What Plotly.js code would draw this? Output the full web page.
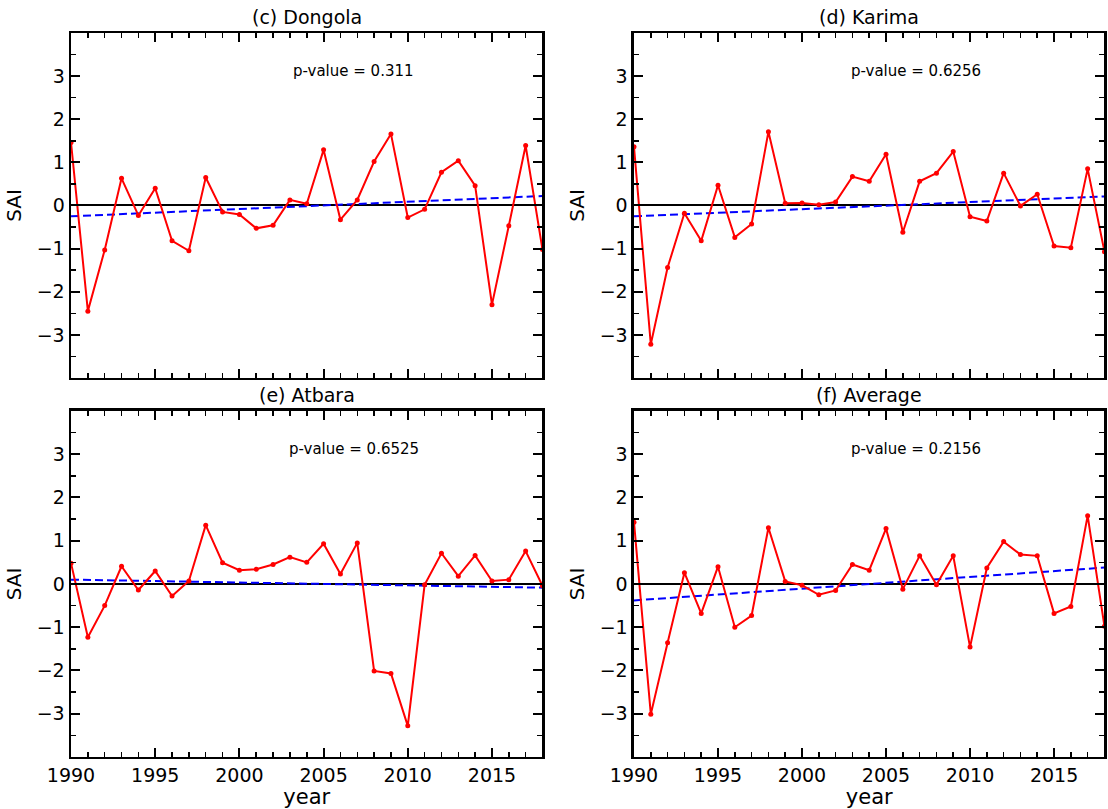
<!DOCTYPE html>
<html>
<head>
<meta charset="utf-8">
<script src="https://cdn.plot.ly/plotly-3.0.1.min.js"></script>
<style>html,body{margin:0;padding:0;background:#fff;}#chart{width:1108px;height:809px;}</style>
</head>
<body>
<div id="chart"></div>
<script>
const years = [1990,1991,1992,1993,1994,1995,1996,1997,1998,1999,2000,2001,2002,2003,2004,2005,2006,2007,2008,2009,2010,2011,2012,2013,2014,2015,2016,2017,2018];

const dongola = [1.46,-2.45,-1.03,0.63,-0.23,0.40,-0.82,-1.05,0.65,-0.15,-0.21,-0.53,-0.46,0.13,0.04,1.29,-0.33,0.13,1.02,1.66,-0.28,-0.09,0.77,1.04,0.46,-2.30,-0.47,1.39,-1.02];
const karima = [1.36,-3.22,-1.44,-0.18,-0.82,0.47,-0.74,-0.43,1.71,0.05,0.06,0.02,0.08,0.67,0.56,1.19,-0.62,0.56,0.75,1.25,-0.26,-0.36,0.75,-0.01,0.26,-0.94,-0.98,0.85,-1.07];
const atbara = [0.48,-1.23,-0.50,0.41,-0.14,0.30,-0.28,0.07,1.36,0.49,0.32,0.34,0.45,0.62,0.50,0.93,0.23,0.95,-2.01,-2.07,-3.28,-0.02,0.71,0.18,0.66,0.07,0.10,0.76,-0.04];
const average = [1.43,-3.01,-1.36,0.26,-0.68,0.40,-1.00,-0.73,1.30,0.06,-0.03,-0.25,-0.15,0.45,0.32,1.28,-0.12,0.65,-0.02,0.65,-1.46,0.37,0.98,0.68,0.65,-0.68,-0.52,1.58,-0.98];

const panelTitles = ["(c) Dongola","(d) Karima","(e) Atbara","(f) Average"];
const pValues = ["p-value = 0.311","p-value = 0.6256","p-value = 0.6525","p-value = 0.2156"];
const trendYears = [1990, 2018];
const trendDongola = [-0.25, 0.22];
const trendKarima = [-0.25, 0.21];
const trendAtbara = [0.10, -0.085];
const trendAverage = [-0.38, 0.38];

const series = [dongola, karima, atbara, average];
const trends = [trendDongola, trendKarima, trendAtbara, trendAverage];

const xDomains = [[0.0641,0.4896],[0.5722,0.9968],[0.0641,0.4896],[0.5722,0.9968]];
const yDomains = [[0.5328,0.9592],[0.5328,0.9592],[0.0643,0.4920],[0.0643,0.4920]];

const FONT = "DejaVu Sans, Liberation Sans, sans-serif";
const traces = [];
const layout = {
  width:1108, height:809,
  margin:{l:0,r:0,t:0,b:0},
  paper_bgcolor:"#fff", plot_bgcolor:"#fff",
  showlegend:false,
  font:{family:FONT, color:"#000", size:16},
  annotations:[]
};

for (let i=0;i<4;i++){
  const n = i+1;
  const xa = n===1 ? "x" : "x"+n;
  const ya = n===1 ? "y" : "y"+n;
  traces.push({x:trendYears, y:trends[i], xaxis:xa, yaxis:ya, mode:"lines",
    line:{color:"#0000ff", width:2, dash:"8px,4px"}, hoverinfo:"skip"});
  traces.push({x:years, y:series[i], xaxis:xa, yaxis:ya, mode:"lines+markers",
    line:{color:"#ff0000", width:2}, marker:{color:"#ff0000", size:5}});
  const bottom = i>=2;
  layout["xaxis"+(n===1?"":n)] = {
    domain:xDomains[i], anchor:ya, range:[1990,2018],
    showline:true, linecolor:"#000", linewidth:2.5, mirror:"allticks",
    ticks:"inside", ticklen:9, tickwidth:2, tickcolor:"#000",
    tickmode:"array", tickvals:[1990,1995,2000,2005,2010,2015],
    minor:{tickvals:years, ticks:"inside", ticklen:5, tickwidth:1.5, tickcolor:"#000"},
    showticklabels:bottom, tickfont:{family:FONT,size:19},
    showgrid:false, zeroline:false,
    title: bottom ? {text:"year", font:{family:FONT,size:21}, standoff:2} : {text:""}
  };
  layout["yaxis"+(n===1?"":n)] = {
    domain:yDomains[i], anchor:xa, range:[-4,4],
    showline:true, linecolor:"#000", linewidth:2.5, mirror:"allticks",
    ticks:"inside", ticklen:9, tickwidth:2, tickcolor:"#000",
    tickmode:"array", tickvals:[-3,-2,-1,0,1,2,3],
    minor:{tickvals:[-3.5,-2.5,-1.5,-0.5,0.5,1.5,2.5,3.5], ticks:"inside", ticklen:5, tickwidth:1.5, tickcolor:"#000"},
    tickfont:{family:FONT,size:19},
    showgrid:false, zeroline:true, zerolinecolor:"#000", zerolinewidth:2,
    title:{text:"SAI", font:{family:FONT,size:20}, standoff:10}
  };
  layout.annotations.push({
    text:panelTitles[i], xref:"paper", yref:"paper",
    x:(xDomains[i][0]+xDomains[i][1])/2, y:yDomains[i][1]+0.004,
    xanchor:"center", yanchor:"bottom", showarrow:false,
    font:{family:FONT,size:19,color:"#000"}
  });
  layout.annotations.push({
    text:pValues[i], xref:xa, yref:ya, x:2006.8, y:3.13,
    xanchor:"center", yanchor:"middle", showarrow:false,
    font:{family:FONT,size:15,color:"#000"}
  });
}

Plotly.newPlot("chart", traces, layout, {displayModeBar:false, staticPlot:true});
</script>
</body>
</html>
